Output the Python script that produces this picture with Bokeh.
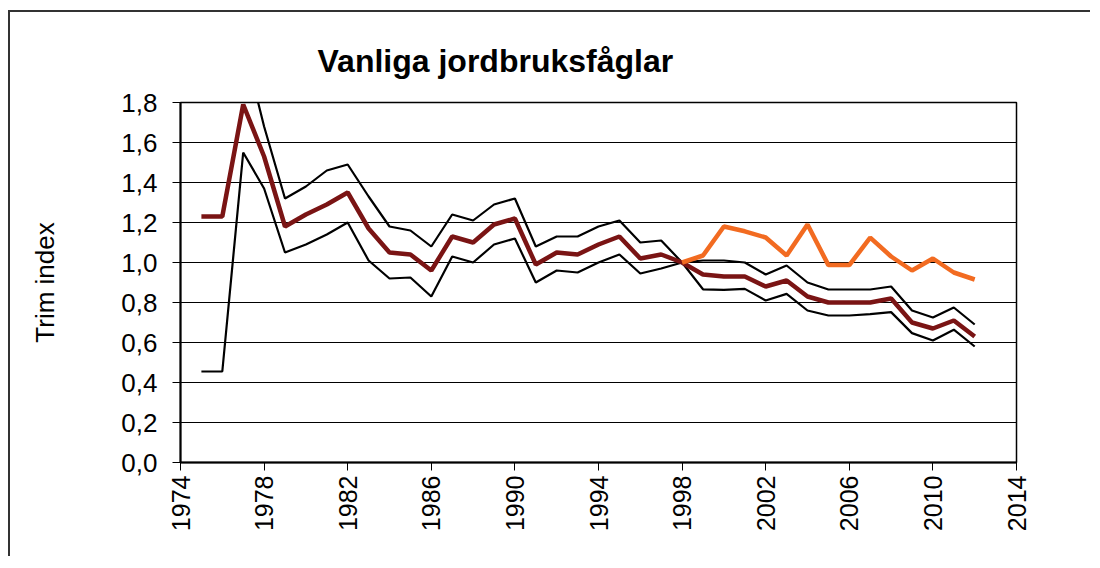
import math
from bokeh.plotting import figure
from bokeh.models import FixedTicker, Range1d
from bokeh.embed import file_html
from bokeh.resources import INLINE

years = list(range(1975, 2013))
index_main = [1.23, 1.23, 1.79, 1.53, 1.18, 1.24, 1.29, 1.35, 1.17, 1.05,
              1.04, 0.96, 1.13, 1.10, 1.19, 1.22, 0.99, 1.05, 1.04, 1.09,
              1.13, 1.02, 1.04, 1.00, 0.94, 0.93, 0.93, 0.88, 0.91, 0.83,
              0.80, 0.80, 0.80, 0.82, 0.70, 0.67, 0.71, 0.63]
upper_ci = [float("nan"), float("nan"), 2.10, 1.68, 1.32, 1.38, 1.46, 1.49, 1.33, 1.18,
            1.16, 1.08, 1.24, 1.21, 1.29, 1.32, 1.08, 1.13, 1.13, 1.18,
            1.21, 1.10, 1.11, 1.00, 1.01, 1.01, 1.00, 0.94, 0.985, 0.90,
            0.865, 0.865, 0.865, 0.88, 0.76, 0.725, 0.775, 0.69]
lower_ci = [0.455, 0.455, 1.55, 1.37, 1.05, 1.09, 1.14, 1.20, 1.01, 0.92,
            0.925, 0.83, 1.03, 1.00, 1.09, 1.12, 0.90, 0.96, 0.95, 1.00,
            1.04, 0.945, 0.97, 1.00, 0.866, 0.863, 0.868, 0.81, 0.843, 0.76,
            0.735, 0.735, 0.742, 0.752, 0.647, 0.61, 0.664, 0.58]
years_new = list(range(1998, 2013))
index_new = [1.00, 1.035, 1.18, 1.156, 1.125, 1.035, 1.19, 0.987, 0.987,
             1.124, 1.03, 0.96, 1.02, 0.95, 0.915]

x_ticks = list(range(1974, 2015, 4))
y_ticks = [0.0, 0.2, 0.4, 0.6, 0.8, 1.0, 1.2, 1.4, 1.6, 1.8]
y_tick_labels = ["0,0", "0,2", "0,4", "0,6", "0,8", "1,0", "1,2", "1,4", "1,6", "1,8"]

FONT = "Liberation Sans"

p = figure(frame_width=836, frame_height=360,
           x_range=Range1d(1974, 2014), y_range=Range1d(0, 1.8),
           output_backend="svg", toolbar_location=None,
           min_border_left=170, min_border_top=90,
           min_border_right=74, min_border_bottom=94,
           title="Vanliga jordbruksfåglar")
p.styles = {
    "margin-left": "8px", "margin-top": "10px",
    "border-top": "2px solid #333333",
    "border-left": "2px solid #333333",
    "border-right": "0px none white",
    "border-bottom": "0px none white",
}

p.title.text_font = FONT
p.title.text_font_size = "32px"
p.title.text_font_style = "bold"
p.title.align = "left"
p.title.offset = 137
p.title.standoff = 47
p.title.text_color = "black"

p.outline_line_color = "black"
p.outline_line_width = 1.5
p.background_fill_color = "white"
p.border_fill_color = "white"

p.xgrid.visible = False
p.ygrid.ticker = FixedTicker(ticks=y_ticks)
p.ygrid.grid_line_color = "black"
p.ygrid.grid_line_width = 1.2

p.xaxis.ticker = FixedTicker(ticks=x_ticks)
p.xaxis.major_label_orientation = math.pi / 2
p.xaxis.major_label_text_font = FONT
p.xaxis.major_label_text_font_size = "25px"
p.xaxis.major_label_text_color = "black"
p.xaxis.major_tick_out = 8
p.xaxis.major_tick_in = 0
p.xaxis.minor_tick_line_color = None
p.xaxis.major_label_standoff = 5
p.xaxis.axis_line_width = 2
p.xaxis.axis_line_color = "black"
p.xaxis.major_tick_line_color = "black"

p.yaxis.ticker = FixedTicker(ticks=y_ticks)
p.yaxis.major_label_overrides = {t: l for t, l in zip(y_ticks, y_tick_labels)}
p.yaxis.major_label_text_font = FONT
p.yaxis.major_label_text_font_size = "26px"
p.yaxis.major_label_text_color = "black"
p.yaxis.major_tick_out = 8
p.yaxis.major_tick_in = 0
p.yaxis.minor_tick_line_color = None
p.yaxis.major_label_standoff = 15
p.yaxis.axis_line_width = 2
p.yaxis.axis_line_color = "black"
p.yaxis.major_tick_line_color = "black"
p.yaxis.axis_label = "Trim index"
p.yaxis.axis_label_text_font = FONT
p.yaxis.axis_label_text_font_size = "26px"
p.yaxis.axis_label_text_font_style = "normal"
p.yaxis.axis_label_text_color = "black"
p.yaxis.axis_label_standoff = 58

p.line(years, upper_ci, line_color="black", line_width=2.2)
p.line(years, lower_ci, line_color="black", line_width=2.2)
p.line(years, index_main, line_color="#7a1414", line_width=4.5)
p.line(years_new, index_new, line_color="#f26b21", line_width=4.5)

open("out.html", "w").write(file_html(p, INLINE))
